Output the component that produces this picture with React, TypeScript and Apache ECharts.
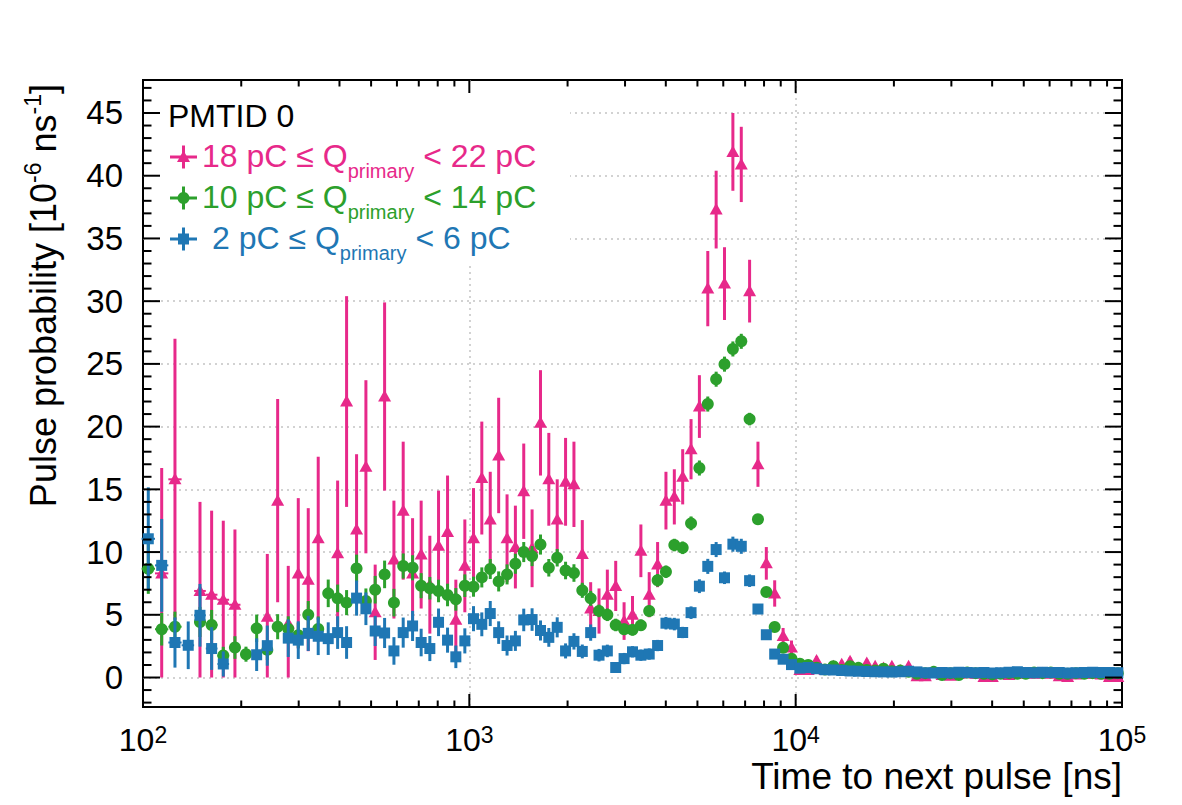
import React, { useEffect, useRef } from "react";
import * as echarts from "echarts";

// ---- bin centres (ns) ----
const tLow = [103.8, 114.1, 125.3, 137.6, 149.5, 162.3, 176.2, 191.3, 206.8, 223.0, 240.4, 258.6, 278.7, 299.1, 320.9, 344.3, 369.5, 394.8, 420.6, 451.3, 482.0, 514.6, 550.0, 587.4, 627.1, 670.0, 711.8, 756.8, 804.7, 857.5, 909.2, 968.8];
const tHigh = [1030, 1092, 1159, 1230, 1305, 1384, 1468, 1557, 1652, 1752, 1859, 1972, 2092, 2219, 2354, 2497, 2648, 2809, 2980, 3162, 3355, 3558, 3775, 4004, 4248, 4506, 4780, 5070, 5379, 5706, 6053, 6421, 6813, 7225, 7664, 8130, 8624, 9152, 9709,
  10300, 10925, 11590, 12296, 13045, 13839, 14678, 15571, 16517, 17522, 18587, 19717, 20915, 22187, 23536, 24966, 26484, 28094, 29802, 31623, 33545, 35585, 37748, 40043, 42477, 45059, 47799, 50705, 53787, 57057, 60526, 64205, 68129, 72248, 76640, 81300, 86242, 91525, 97091];
const timeNs = [...tLow, ...tHigh];

// ---- 18 pC <= Q < 22 pC (pink) ----
const pinkVal = [
  null, 8.3, 15.8, null, 6.9, 6.6, 6.2, 5.8, null, null,
  4.85, 14.1, 4.3, 8.3, 7.8, 11.1, null, 9.9, 22.0, 11.8,
  16.8, 5.2, 22.4, 9.4, 13.3, 8.3, 9.8, 7.4, 10.5, 11.6,
  4.6, 8.9,
  11.1, 15.9, 12.6, 17.7, 11.1, 10.4, 14.85, 10.3, 20.3, 15.8,
  12.6, 15.6, 15.4, 9.85, 5.5, 5.3, 6.6, 7.3, 4.5, 5.0,
  10.1, 6.6, 9.0, 14.1, 14.4, 16.0, 18.2, 21.6, 31.0, 37.3,
  31.4, 41.9, 40.9, 30.8, 17.0, 9.1, 6.7, 3.3, 2.4,
  0.6, 0.6, 1.35, 0.6, 0.9, 1.05, 1.3, 0.6, 1.15, 0.9,
  0.75, 0.9, 0.55, 0.9, 0.1, 0.1, 0.4, 0.2, 0.15, 0.3,
  0.35, 0.3, 0.05, 0.05, 0.3, 0.2, 0.3, 0.35, 0.3, 0.35,
  0.3, 0.1, 0.05, 0.25, 0.3, 0.3, 0.25, 0.05, 0.05,
];
const pinkErr = [
  0, 8.4, 11.2, 0, 7.1, 6.7, 6.3, 6.0, 0, 0,
  5.0, 8.1, 4.6, 6.0, 5.7, 6.5, 0, 5.8, 8.4, 6.0,
  6.9, 3.8, 7.5, 4.7, 5.5, 4.4, 4.3, 3.9, 4.4, 4.5,
  3.2, 3.7,
  4.0, 4.5, 3.8, 4.6, 3.5, 3.3, 3.8, 3.1, 4.2, 3.7,
  3.2, 3.5, 3.4, 2.7, 2.1, 1.8, 2.0, 2.0, 1.5, 1.5,
  2.1, 1.8, 1.8, 2.3, 2.2, 2.2, 2.4, 2.5, 3.0, 3.1,
  2.9, 3.1, 3.0, 2.5, 1.8, 1.3, 1.05, 0.65, 0.55,
  0.35, 0.3, 0.35, 0.3, 0.3, 0.3, 0.3, 0.25, 0.3, 0.25,
  0.25, 0.25, 0.2, 0.25, 0.15, 0.15, 0.2, 0.15, 0.15, 0.15,
  0.2, 0.15, 0.1, 0.1, 0.15, 0.15, 0.15, 0.15, 0.15, 0.15,
  0.15, 0.1, 0.1, 0.15, 0.15, 0.15, 0.15, 0.1, 0.1,
];

// ---- 10 pC <= Q < 14 pC (green) ----
const greenVal = [
  8.67, 3.85, 4.05, null, 4.43, 4.19, 1.75, 2.39, 1.86, 3.92,
  2.2, 4.05, 3.88, 3.37, 5.0, 3.87, 6.71, 6.31, 5.97, 8.7,
  6.1, 7.0, 8.22, 5.97, 8.89, 8.75, 7.32, 7.12, 6.9, 6.58,
  6.23, 7.32,
  7.24, 7.98, 8.65, 7.66, 8.22, 9.07, 10.0, 9.68, 10.6, 8.75,
  9.55, 8.53, 8.33, 6.95, 6.31, 5.31, 5.0, 4.19, 3.85, 3.8,
  4.16, 5.3, 7.75, 8.43, 10.56, 10.34, 12.29, 16.7, 21.8, 23.78,
  24.98, 26.19, 26.8, 20.6, 12.62, 6.82, 4.03, 2.37, 1.5,
  1.1, 1.0, 0.78, 0.63, 0.9, 0.6, 0.9, 0.77, 0.6, 0.55,
  0.7, 0.5, 0.55, 0.45, 0.3, 0.35, 0.45, 0.2, 0.35, 0.2,
  0.4, 0.35, 0.3, 0.25, 0.3, 0.35, 0.3, 0.3, 0.4, 0.35,
  0.4, 0.3, 0.3, 0.35, 0.3, 0.35, 0.3, 0.3, 0.35,
];
const greenErr = [
  2.0, 1.3, 1.2, 0, 1.2, 1.2, 0.7, 0.9, 0.6, 1.1,
  0.8, 1.0, 1.0, 1.0, 1.1, 1.0, 1.1, 1.1, 1.0, 1.1,
  1.0, 1.1, 1.1, 1.1, 1.0, 1.0, 1.0, 0.9, 0.9, 0.9,
  0.9, 0.9,
  0.8, 0.8, 0.8, 0.8, 0.8, 0.8, 0.8, 0.8, 0.8, 0.7,
  0.7, 0.7, 0.7, 0.6, 0.6, 0.5, 0.5, 0.5, 0.45, 0.45,
  0.45, 0.45, 0.5, 0.5, 0.5, 0.5, 0.55, 0.6, 0.6, 0.6,
  0.6, 0.6, 0.6, 0.5, 0.4, 0.3, 0.25, 0.2, 0.15,
  0.15, 0.12, 0.12, 0.1, 0.1, 0.1, 0.1, 0.1, 0.1, 0.1,
  0.1, 0.1, 0.1, 0.1, 0.1, 0.1, 0.1, 0.1, 0.1, 0.1,
  0.1, 0.1, 0.1, 0.1, 0.1, 0.1, 0.1, 0.1, 0.1, 0.1,
  0.1, 0.1, 0.1, 0.1, 0.1, 0.1, 0.1, 0.1, 0.1,
];

// ---- 2 pC <= Q < 6 pC (blue) ----
const blueVal = [
  11.06, 8.94, 2.79, 2.57, 4.96, 2.31, 1.08, null, null, 1.82,
  2.54, null, 3.14, 2.98, 3.52, 3.29, 3.1, 3.58, 2.79, 6.33,
  5.48, 3.71, 3.55, 2.12, 3.58, 4.11, 2.79, 2.31, 4.4, 2.98,
  1.65, 2.92,
  4.69, 4.24, 5.1, 3.58, 2.55, 2.92, 4.59, 4.62, 3.75, 3.2,
  4.0, 2.12, 2.88, 2.08, 3.58, 1.78, 2.12, 0.8, 1.51, 2.05,
  1.78, 1.87, 2.55, 4.33, 4.26, 3.59, 5.17, 7.28, 8.86, 10.2,
  7.95, 10.63, 10.46, 7.72, 5.46, 3.41, 1.87, 1.46, 1.03,
  0.75, 0.8, 0.7, 0.62, 0.6, 0.56, 0.52, 0.5, 0.48, 0.46,
  0.45, 0.44, 0.46, 0.5, 0.45, 0.38, 0.36, 0.4, 0.38, 0.42,
  0.4, 0.38, 0.4, 0.36, 0.38, 0.42, 0.46, 0.4, 0.38, 0.42,
  0.4, 0.4, 0.36, 0.38, 0.4, 0.42, 0.4, 0.4, 0.38,
];
const blueErr = [
  4.1, 3.7, 2.0, 1.9, 2.5, 1.7, 1.0, 0, 0, 1.3,
  1.6, 0, 1.5, 1.5, 1.4, 1.5, 1.3, 1.3, 1.3, 1.4,
  1.3, 1.2, 1.2, 1.1, 1.2, 1.2, 1.1, 1.0, 1.1, 1.0,
  0.9, 1.0,
  1.0, 0.95, 1.0, 0.9, 0.8, 0.8, 0.9, 0.9, 0.8, 0.75,
  0.8, 0.6, 0.65, 0.55, 0.65, 0.5, 0.5, 0.35, 0.45, 0.45,
  0.45, 0.45, 0.45, 0.5, 0.5, 0.45, 0.5, 0.55, 0.6, 0.6,
  0.5, 0.6, 0.6, 0.5, 0.4, 0.3, 0.25, 0.2, 0.18,
  0.16, 0.16, 0.15, 0.15, 0.15, 0.15, 0.15, 0.15, 0.15, 0.15,
  0.15, 0.15, 0.15, 0.15, 0.15, 0.15, 0.15, 0.15, 0.15, 0.15,
  0.15, 0.15, 0.15, 0.15, 0.15, 0.15, 0.15, 0.15, 0.15, 0.15,
  0.15, 0.15, 0.15, 0.15, 0.15, 0.15, 0.15, 0.15, 0.15,
];

// ---- axis ticks ----
const xMajorTicks = [1000, 10000];
const xMinorTicks = [200, 300, 400, 500, 600, 700, 800, 900, 2000, 3000, 4000, 5000, 6000, 7000, 8000, 9000, 20000, 30000, 40000, 50000, 60000, 70000, 80000, 90000];
const yMajorTicks = [0, 5, 10, 15, 20, 25, 30, 35, 40, 45];
const yMinorTicks = [-2, -1, 1, 2, 3, 4, 6, 7, 8, 9, 11, 12, 13, 14, 16, 17, 18, 19, 21, 22, 23, 24, 26, 27, 28, 29, 31, 32, 33, 34, 36, 37, 38, 39, 41, 42, 43, 44, 46, 47];
const Y_MIN = -2.35;
const Y_MAX = 47.63;

const FONT = "'Liberation Sans', Arial, Helvetica, sans-serif";
const PINK = "#e7298a";
const GREEN = "#2ca02c";
const BLUE = "#1f77b4";

function markerShape(kind: string, x: number, y: number, color: string, z?: number): any {
  const base: any = z != null ? { z } : {};
  if (kind === "triangle")
    return { ...base, type: "polygon", shape: { points: [[x, y - 6.5], [x - 6.5, y + 5], [x + 6.5, y + 5]] }, style: { fill: color } };
  if (kind === "circle")
    return { ...base, type: "circle", shape: { cx: x, cy: y, r: 6 }, style: { fill: color } };
  return { ...base, type: "rect", shape: { x: x - 5.5, y: y - 5.5, width: 11, height: 11 }, style: { fill: color } };
}

function errorSeries(name: string, vals: (number | null)[], errs: number[], color: string, kind: string): any {
  const data: number[][] = [];
  for (let i = 0; i < vals.length; i++) {
    const v = vals[i];
    if (v !== null) data.push([timeNs[i], v, errs[i], i]);
  }
  return {
    name,
    type: "custom",
    coordinateSystem: "cartesian2d",
    encode: { x: 0, y: 1 },
    data,
    z: 2,
    silent: true,
    renderItem: (params: any, api: any) => {
      const t = api.value(0) as number;
      const v = api.value(1) as number;
      const e = api.value(2) as number;
      const i = api.value(3) as number;
      const p = api.coord([t, v]);
      const top = api.coord([t, v + e])[1];
      const bot = api.coord([t, Math.max(v - e, 0)])[1];
      const prev = i > 0 ? timeNs[i - 1] : (t * t) / timeNs[i + 1];
      const next = i < timeNs.length - 1 ? timeNs[i + 1] : (t * t) / timeNs[i - 1];
      const xl = api.coord([Math.sqrt(prev * t), v])[0];
      const xr = api.coord([Math.sqrt(next * t), v])[0];
      const children: any[] = [
        { type: "line", shape: { x1: p[0], y1: top, x2: p[0], y2: bot }, style: { stroke: color, lineWidth: 3 } },
      ];
      if ((xr - xl) / 2 > 5.6)
        children.push({ type: "line", shape: { x1: xl, y1: p[1], x2: xr, y2: p[1] }, style: { stroke: color, lineWidth: 2 } });
      children.push(markerShape(kind, p[0], p[1], color));
      return { type: "group", children };
    },
  };
}

function tickLine(x1: number, y1: number, x2: number, y2: number) {
  return { type: "line", shape: { x1, y1, x2, y2 }, style: { stroke: "#000", lineWidth: 2 } };
}

function buildOption(): any {
  const gridLine = { color: "#c4c4c4", type: [2, 4], width: 1.5 };
  const xTickData = [...xMajorTicks.map((t) => [t, 0, 1]), ...xMinorTicks.map((t) => [t, 0, 0])];
  const yTickData = [...yMajorTicks.map((v) => [1000, v, 1]), ...yMinorTicks.map((v) => [1000, v, 0])];

  const legendRows = [
    { color: PINK, kind: "triangle", lo: "18 pC ≤ Q", hi: "< 22 pC", tx: 202, y: 157 },
    { color: GREEN, kind: "circle", lo: "10 pC ≤ Q", hi: "< 14 pC", tx: 202, y: 198 },
    { color: BLUE, kind: "square", lo: "2 pC ≤ Q", hi: "< 6 pC", tx: 212, y: 239 },
  ];
  const legendEls: any[] = [];
  legendRows.forEach((r) => {
    const mx = 183.5;
    legendEls.push({ type: "line", z: 10, shape: { x1: 170, y1: r.y, x2: 197, y2: r.y }, style: { stroke: r.color, lineWidth: 3 } });
    legendEls.push({ type: "line", z: 10, shape: { x1: mx, y1: r.y - 11.5, x2: mx, y2: r.y + 11.5 }, style: { stroke: r.color, lineWidth: 3 } });
    legendEls.push(markerShape(r.kind, mx, r.y, r.color, 11));
    legendEls.push({
      type: "text",
      z: 10,
      x: r.tx,
      y: r.y - 1,
      style: {
        text: `{m|${r.lo}}{s|primary}{h|${r.hi}}`,
        fill: r.color,
        fontFamily: FONT,
        align: "left",
        verticalAlign: "middle",
        textAlign: "left",
        textVerticalAlign: "middle",
        rich: {
          m: { fontSize: 32, lineHeight: 50, fontFamily: FONT, fill: r.color, color: r.color },
          s: { fontSize: 20, lineHeight: 19, verticalAlign: "bottom", fontFamily: FONT, fill: r.color, color: r.color },
          h: { fontSize: 32, lineHeight: 50, fontFamily: FONT, fill: r.color, color: r.color, padding: [0, 0, 0, 9] },
        },
      },
    });
  });

  return {
    animation: false,
    backgroundColor: "#ffffff",
    textStyle: { fontFamily: FONT },
    grid: { left: 143, right: 60, top: 80, bottom: 98, show: true, borderColor: "#000", borderWidth: 2, backgroundColor: "transparent" },
    xAxis: {
      type: "log",
      logBase: 10,
      min: 100,
      max: 100000,
      axisLine: { show: false },
      axisTick: { show: false },
      splitLine: { show: true, showMinLine: false, showMaxLine: false, lineStyle: gridLine },
      axisLabel: {
        margin: 16,
        color: "#000",
        formatter: (v: number) => `{b|10}{s|${Math.round(Math.log10(v))}}`,
        rich: {
          b: { fontSize: 32, lineHeight: 34, fontFamily: FONT, color: "#000" },
          s: { fontSize: 23, lineHeight: 24, verticalAlign: "top", fontFamily: FONT, color: "#000" },
        },
      },
    },
    yAxis: {
      type: "value",
      min: Y_MIN,
      max: Y_MAX,
      splitNumber: 10,
      axisLine: { show: false },
      axisTick: { show: false },
      splitLine: { show: true, showMinLine: false, showMaxLine: false, lineStyle: gridLine },
      axisLabel: {
        fontSize: 33,
        fontFamily: FONT,
        color: "#000",
        margin: 20,
        showMinLabel: false,
        showMaxLabel: false,
        formatter: (v: number) => (Math.abs(v / 5 - Math.round(v / 5)) < 1e-6 ? String(Math.round(v)) : ""),
      },
    },
    graphic: {
      elements: [
        { type: "rect", z: 1, silent: true, shape: { x: 145, y: 82, width: 425, height: 180 }, style: { fill: "#ffffff" } },
        {
          type: "text",
          z: 10,
          x: 168,
          y: 116,
          style: { text: "PMTID 0", fontSize: 32, fontFamily: FONT, fill: "#000", align: "left", verticalAlign: "middle", textAlign: "left", textVerticalAlign: "middle" },
        },
        ...legendEls,
        {
          type: "text",
          z: 10,
          x: 43,
          y: 84,
          rotation: Math.PI / 2,
          style: {
            text: "{m|Pulse probability [10}{u|-6}{n|ns}{u|-1}{m|]}",
            fill: "#000",
            align: "right",
            verticalAlign: "middle",
            textAlign: "right",
            textVerticalAlign: "middle",
            rich: {
              m: { fontSize: 36, lineHeight: 44, fontFamily: FONT, fill: "#000", color: "#000" },
              n: { fontSize: 36, lineHeight: 44, fontFamily: FONT, fill: "#000", color: "#000", padding: [0, 0, 0, 10] },
              u: { fontSize: 23, lineHeight: 22, verticalAlign: "top", fontFamily: FONT, fill: "#000", color: "#000" },
            },
          },
        },
        {
          type: "text",
          z: 10,
          x: 1122,
          y: 776,
          style: { text: "Time to next pulse [ns]", fontSize: 37, fontFamily: FONT, fill: "#000", align: "right", verticalAlign: "middle", textAlign: "right", textVerticalAlign: "middle" },
        },
      ],
    },
    series: [
      errorSeries("18 pC ≤ Q_primary < 22 pC", pinkVal, pinkErr, PINK, "triangle"),
      errorSeries("10 pC ≤ Q_primary < 14 pC", greenVal, greenErr, GREEN, "circle"),
      errorSeries("2 pC ≤ Q_primary < 6 pC", blueVal, blueErr, BLUE, "square"),
      {
        type: "custom",
        coordinateSystem: "cartesian2d",
        encode: { x: 0, y: 1 },
        data: xTickData,
        z: 6,
        silent: true,
        renderItem: (params: any, api: any) => {
          const cs = params.coordSys;
          const x = api.coord([api.value(0), 0])[0];
          const len = api.value(2) ? 13 : 6.5;
          const b = cs.y + cs.height;
          const tp = cs.y;
          return { type: "group", children: [tickLine(x, b, x, b - len), tickLine(x, tp, x, tp + len)] };
        },
      },
      {
        type: "custom",
        coordinateSystem: "cartesian2d",
        encode: { x: 0, y: 1 },
        data: yTickData,
        z: 6,
        silent: true,
        renderItem: (params: any, api: any) => {
          const cs = params.coordSys;
          const y = api.coord([api.value(0), api.value(1)])[1];
          const len = api.value(2) ? 17 : 8.5;
          const l = cs.x;
          const r = cs.x + cs.width;
          return { type: "group", children: [tickLine(l, y, l + len, y), tickLine(r, y, r - len, y)] };
        },
      },
    ],
  };
}

export default function App() {
  const ref = useRef<HTMLDivElement>(null);
  useEffect(() => {
    if (!ref.current) return;
    const chart = echarts.init(ref.current, undefined, { renderer: "svg" });
    chart.setOption(buildOption());
    return () => chart.dispose();
  }, []);
  return <div ref={ref} style={{ position: "fixed", left: 0, top: 0, width: 1182, height: 805, background: "#fff" }} />;
}
